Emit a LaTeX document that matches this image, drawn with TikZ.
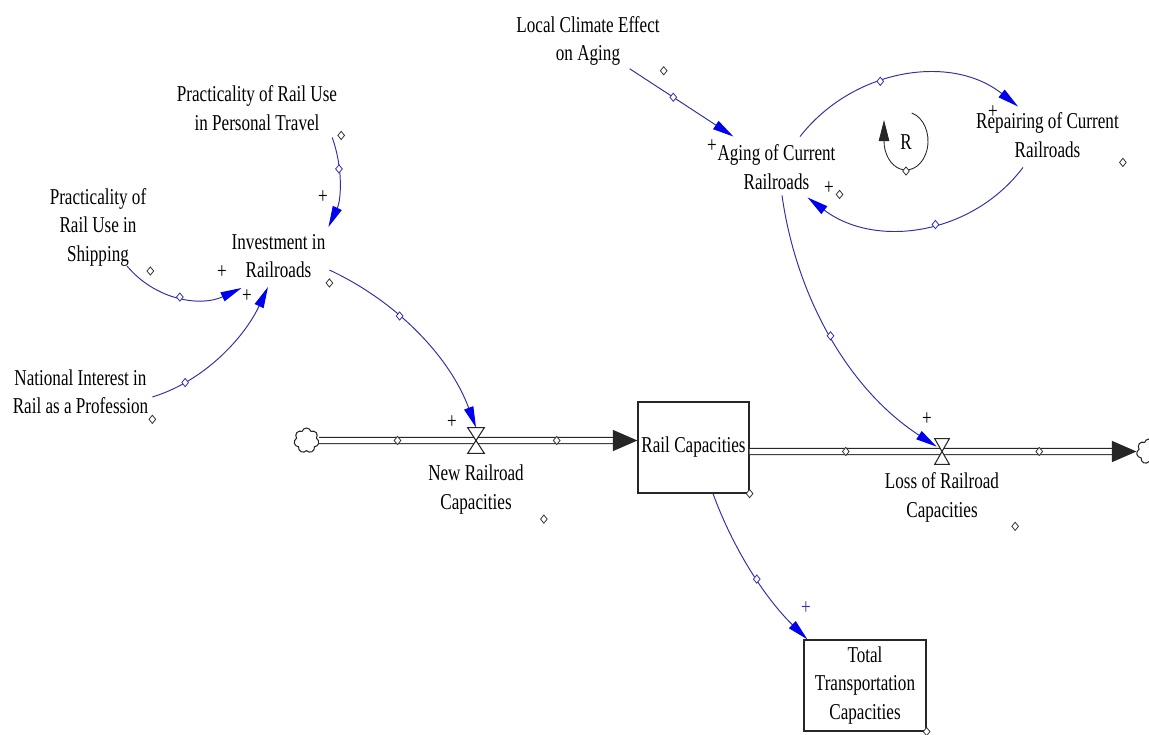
\documentclass[tikz,border=0pt]{standalone}
\usepackage{fontspec}
\setmainfont{Liberation Serif}[FakeStretch=0.755]
\usetikzlibrary{shapes.geometric, shapes.symbols, arrows.meta, positioning}

\definecolor{linkblue}{RGB}{48,48,168}
\definecolor{tipblue}{RGB}{0,0,240}
\newcommand{\varfont}{\fontsize{12.9}{16.2}\selectfont}

\tikzstyle{var} = [align=center, inner sep=1pt, font=\varfont]
\tikzstyle{stock} = [rectangle, draw=black!85, line width=0.7pt, align=center, inner sep=1pt, minimum height=1.82cm, font=\varfont]
\tikzstyle{valve} = [rectangle, inner sep=0pt, minimum width=0.32cm, minimum height=0.5cm]
\tikzstyle{cloudnode} = [cloud, cloud puffs=7, aspect=1, draw=black!85, fill=white, line width=0.6pt, inner sep=0pt, minimum width=0.5cm, minimum height=0.5cm]
\tikzstyle{pipe} = [draw=black!85, line width=0.7pt, double, double distance=0.1cm]
\tikzstyle{link} = [draw=linkblue, line width=0.55pt, -{Triangle[length=12pt, width=5.5pt, color=tipblue]}]
\tikzstyle{hdl} = [diamond, draw=black!80, fill=white, line width=0.45pt, inner sep=0pt, minimum width=0.14cm, minimum height=0.17cm]
\tikzstyle{lhdl} = [hdl, draw=linkblue]
\tikzstyle{pol} = [inner sep=0pt, font=\varfont]

\begin{document}
\begin{tikzpicture}[x=0.02cm, y=-0.02cm]
\useasboundingbox (0,0) rectangle (1149,734);

% variables
\node (local) [var] at (588,41) {Local Climate Effect\\on Aging};
\node (personal) [var] at (257,108) {Practicality of Rail Use\\in Personal Travel};
\node (shipping) [var] at (98,227) {Practicality of\\Rail Use in\\Shipping};
\node (invest) [var] at (278.5,256) {Investment in\\Railroads};
\node (national) [var] at (80.5,392) {National Interest in\\Rail as a Profession};
\node (aging) [var] at (776.5,167) {Aging of Current\\Railroads};
\node (repair) [var] at (1047.5,135) {Repairing of Current\\Railroads};
\node (loopR) [var] at (906,142) {R};

% stocks, valves, clouds
\node (rail) [stock, minimum width=2.22cm] at (693.5,447.5) {Rail Capacities};
\node (total) [stock, minimum width=2.44cm] at (865,685.5) {Total\\Transportation\\Capacities};
\node (cloud1) [cloudnode] at (306.5,440.5) {};
\node (cloud2) [cloudnode] at (1149,451.5) {};
\node (valve1) [valve] at (476,440.5) {};
\node (valve2) [valve, minimum width=0.28cm] at (942,451.5) {};
\node (newlbl) [var, below=0.19cm of valve1] {New Railroad\\Capacities};
\node (losslbl) [var, below=0.13cm of valve2] {Loss of Railroad\\Capacities};

% flows
\draw [pipe, -{Triangle[length=14pt, width=12pt, line width=0.7pt]}] (cloud1) -- (valve1.center) -- (valve1 -| rail.west);
\draw [pipe, -{Triangle[length=14pt, width=12pt, line width=0.7pt]}] (rail.east |- valve2) -- (valve2.center) -- (cloud2);
\foreach \v in {valve1, valve2}
  \draw [fill=white, draw=black!85, line width=0.6pt] (\v.north west) -- (\v.north east) -- (\v.south west) -- (\v.south east) -- cycle;
\path (cloud1) -- node (hp1) [hdl] {} (valve1.center) -- node (hp2) [hdl] {} (valve1 -| rail.west);
\path (rail.east |- valve2) -- node (hp3) [hdl] {} (valve2.center) -- node (hp4) [hdl] {} (cloud2);

% links
\draw [link] ([shift={(-32,1)}]local.south east) -- ([shift={(18,-6)}]aging.north west) node [lhdl, pos=0.42] {};
\draw [link] ([shift={(-7,5)}]personal.south east) .. controls +(70:31) and +(295:31) .. ([shift={(1,-5)}]invest.north east) node [lhdl, pos=0.35] {};
\draw [link] ([shift={(29,-2)}]shipping.south) .. controls +(50:45) and +(155:45) .. ([shift={(12,8)}]invest.south west) node [lhdl, pos=0.5] {};
\draw [link] ([shift={(2,5)}]national.east) .. controls +(-17:55) and +(115:55) .. ([shift={(-10.5,7)}]invest.south) node [lhdl, pos=0.22] {};
\draw [link] ([shift={(2,14)}]invest.east) .. controls +(25:75) and +(249.7:75) .. (valve1.north) node [lhdl, pos=0.38] {};
\draw [link] ([shift={(5.5,4)}]aging.south) .. controls +(82:104) and +(213:104) .. ([shift={(2,8)}]valve2.north west) node [lhdl, pos=0.49] {};
\draw [link] ([shift={(23.5,-6)}]aging.north) .. controls +(-52:86) and +(218.5:86) .. ([shift={(44,-4)}]repair.north west) node [lhdl, pos=0.4] {};
\draw [link] ([shift={(-24.5,8)}]repair.south) .. controls +(127:85) and +(37.2:85) .. ([shift={(-30,6)}]aging.south east) node [lhdl, pos=0.44] {};
\draw [link] ([shift={(19.5,0)}]rail.south) .. controls +(70:59) and +(224.3:59) .. ([shift={(4,0)}]total.north west) node [lhdl, pos=0.55] {};

% loop marker
\draw [black!85, line width=0.5pt, -{Triangle[length=12pt, width=6pt]}] ([shift={(5.7,-29)}]loopR.center) arc [start angle=75, end angle=-180, x radius=0.44cm, y radius=0.58cm] -- ++(0,-21);
\node (h-loop) [hdl] at ([shift={(0,29)}]loopR.center) {};

% polarities
\node (s1) [pol] at (712,146) {+};
\node (s2) [pol] at (323,197) {+};
\node (s3) [pol] at (222,272) {+};
\node (s4) [pol] at (247,296) {+};
\node (s5) [pol] at (452,422) {+};
\node (s6) [pol] at (927,419) {+};
\node (s7) [pol] at (993,112) {+};
\node (s8) [pol] at (829,188) {+};
\node (s9) [pol, text=linkblue] at (806,608) {+};

% handles
\foreach \v in {local, personal, shipping, invest, national, aging, repair}
  \node (h-\v) [hdl] at ([shift={(2,3)}]\v.south east) {};
\node (h-rail) [hdl] at (rail.south east) {};
\node (h-total) [hdl] at (total.south east) {};
\node (h-newlbl) [hdl] at ([shift={(18,3)}]newlbl.south east) {};
\node (h-losslbl) [hdl] at ([shift={(14,2)}]losslbl.south east) {};

\end{tikzpicture}
\end{document}
